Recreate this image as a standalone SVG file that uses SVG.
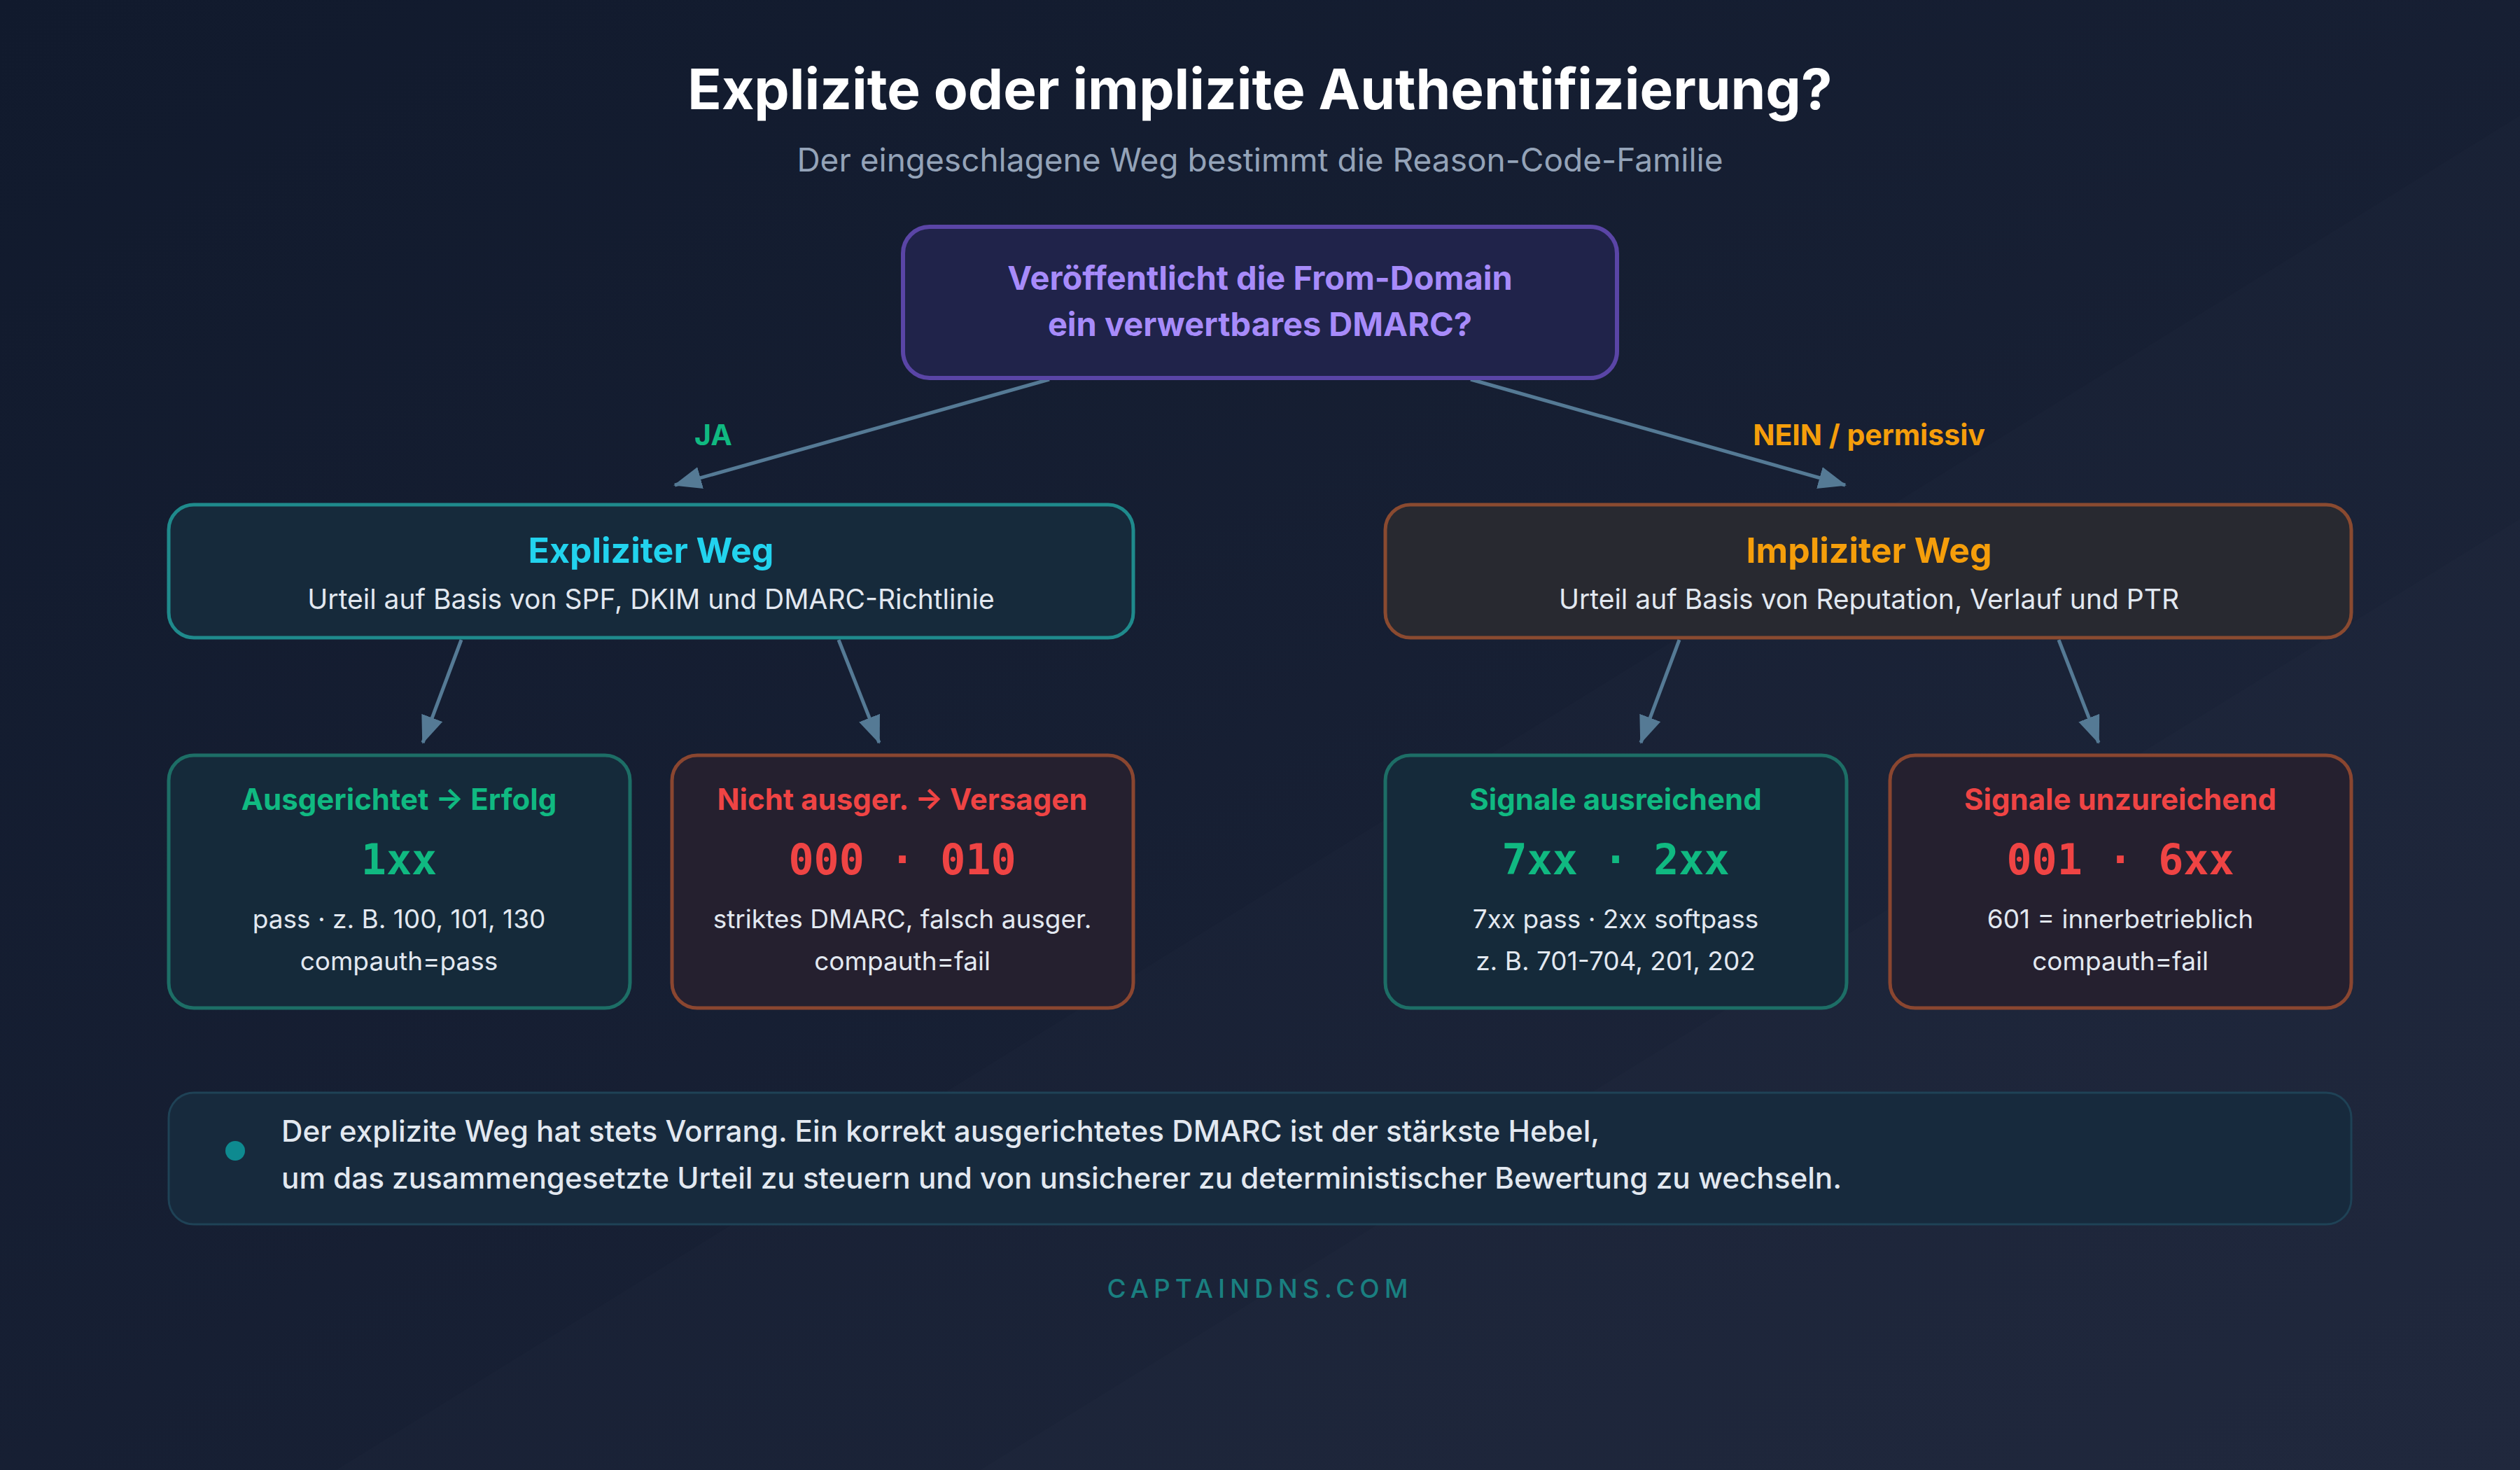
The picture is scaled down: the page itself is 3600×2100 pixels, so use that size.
<svg xmlns="http://www.w3.org/2000/svg" width="3600" height="2100" viewBox="0 0 3600 2100">
<defs>
<linearGradient id="bg" x1="0" y1="0" x2="1" y2="1">
<stop offset="0" stop-color="#111a2d"/>
<stop offset="1" stop-color="#1c2439"/>
</linearGradient>
<marker id="ah" markerUnits="userSpaceOnUse" markerWidth="40" markerHeight="32" refX="38" refY="16" orient="auto">
<path d="M0,0 L40,16 L0,32 Z" fill="#557a95"/>
</marker>
<style>
text{font-family:Inter,"Noto Sans","Liberation Sans",sans-serif;text-anchor:middle}
.title{font-size:80px;font-weight:700;fill:#ffffff}
.sub{font-size:46px;fill:#94a3b8}
.q{font-size:47px;font-weight:700;fill:#a78bfa}
.ht{font-size:50px;font-weight:700}
.hs{font-size:39px;fill:#e2e8f0}
.bt{font-size:42px;font-weight:700}
.code{font-family:"DejaVu Sans Mono","Liberation Mono",monospace;font-size:60px;font-weight:700}
.bl{font-size:37px;fill:#e2e8f0}
.note{font-size:42.2px;font-weight:500;fill:#e2e8f0;text-anchor:start}
.lbl{font-size:41px;font-weight:700}
.conn line{stroke:#557a95;stroke-width:5;marker-end:url(#ah)}
.green{fill:#10b981}.red{fill:#ef4444}.cyan{fill:#22d3ee}.orange{fill:#f59e0b}
.gbox{fill:#152a3a;stroke:#1d6e66;stroke-width:5}
.rbox{fill:#25202f;stroke:#8a4630;stroke-width:5}
</style>
</defs>
<rect width="3600" height="2100" fill="url(#bg)"/>
<polygon points="3866,0 3600,0 3600,2100 480,2100" fill="#ffffff" opacity="0.012"/>
<polygon points="4800,0 3600,0 3600,2100 1400,2100" fill="#ffffff" opacity="0.01"/>

<text class="title" x="1800" y="156">Explizite oder implizite Authentifizierung?</text>
<text class="sub" x="1800" y="245">Der eingeschlagene Weg bestimmt die Reason-Code-Familie</text>

<g class="conn" id="connectors">
<line x1="1499" y1="542" x2="964" y2="693"/>
<line x1="2101" y1="542" x2="2636" y2="693"/>
<line x1="659" y1="914" x2="604" y2="1061"/>
<line x1="1198" y1="914" x2="1256" y2="1061"/>
<line x1="2399" y1="914" x2="2344" y2="1061"/>
<line x1="2941" y1="914" x2="2998" y2="1061"/>
<text class="lbl green" x="1019" y="636">JA</text>
<text class="lbl orange" x="2670" y="636">NEIN / permissiv</text>
</g>

<g id="node-question">
<rect x="1290" y="324" width="1020" height="216" rx="38" fill="#20234a" stroke="#5a45a6" stroke-width="6"/>
<text class="q" x="1800" y="414">Veröffentlicht die From-Domain</text>
<text class="q" x="1800" y="480">ein verwertbares DMARC?</text>
</g>

<g id="node-explicit">
<rect x="241" y="721" width="1378" height="190" rx="36" fill="#162a3b" stroke="#1f8a8c" stroke-width="5"/>
<text class="ht cyan" x="930" y="804">Expliziter Weg</text>
<text class="hs" x="930" y="870">Urteil auf Basis von SPF, DKIM und DMARC-Richtlinie</text>
</g>

<g id="node-implicit">
<rect x="1979" y="721" width="1380" height="190" rx="36" fill="#282930" stroke="#8a4a30" stroke-width="5"/>
<text class="ht orange" x="2670" y="804">Impliziter Weg</text>
<text class="hs" x="2670" y="870">Urteil auf Basis von Reputation, Verlauf und PTR</text>
</g>

<g id="box-aligned">
<rect class="gbox" x="241" y="1079" width="659" height="361" rx="36"/>
<text class="bt green" x="570" y="1157">Ausgerichtet → Erfolg</text>
<text class="code green" x="570" y="1249">1xx</text>
<text class="bl" x="570" y="1326">pass · z. B. 100, 101, 130</text>
<text class="bl" x="570" y="1386">compauth=pass</text>
</g>

<g id="box-notaligned">
<rect class="rbox" x="960" y="1079" width="659" height="361" rx="36"/>
<text class="bt red" x="1289" y="1157">Nicht ausger. → Versagen</text>
<text class="code red" x="1289" y="1249">000 · 010</text>
<text class="bl" x="1289" y="1326">striktes DMARC, falsch ausger.</text>
<text class="bl" x="1289" y="1386">compauth=fail</text>
</g>

<g id="box-sufficient">
<rect class="gbox" x="1979" y="1079" width="659" height="361" rx="36"/>
<text class="bt green" x="2308" y="1157">Signale ausreichend</text>
<text class="code green" x="2308" y="1249">7xx · 2xx</text>
<text class="bl" x="2308" y="1326">7xx pass · 2xx softpass</text>
<text class="bl" x="2308" y="1386">z. B. 701-704, 201, 202</text>
</g>

<g id="box-insufficient">
<rect class="rbox" x="2700" y="1079" width="659" height="361" rx="36"/>
<text class="bt red" x="3029" y="1157">Signale unzureichend</text>
<text class="code red" x="3029" y="1249">001 · 6xx</text>
<text class="bl" x="3029" y="1326">601 = innerbetrieblich</text>
<text class="bl" x="3029" y="1386">compauth=fail</text>
</g>

<g id="note">
<rect x="241" y="1561" width="3118" height="188" rx="36" fill="#172a3d" stroke="#1f4256" stroke-width="3"/>
<circle cx="336" cy="1644" r="14" fill="#0e8a90"/>
<text class="note" x="402" y="1631">Der explizite Weg hat stets Vorrang. Ein korrekt ausgerichtetes DMARC ist der stärkste Hebel,</text>
<text class="note" x="402" y="1698">um das zusammengesetzte Urteil zu steuern und von unsicherer zu deterministischer Bewertung zu wechseln.</text>
</g>

<text x="1800" y="1854" style="font-size:37px;font-weight:500;fill:#1a7f80;letter-spacing:7px">CAPTAINDNS.COM</text>
</svg>
